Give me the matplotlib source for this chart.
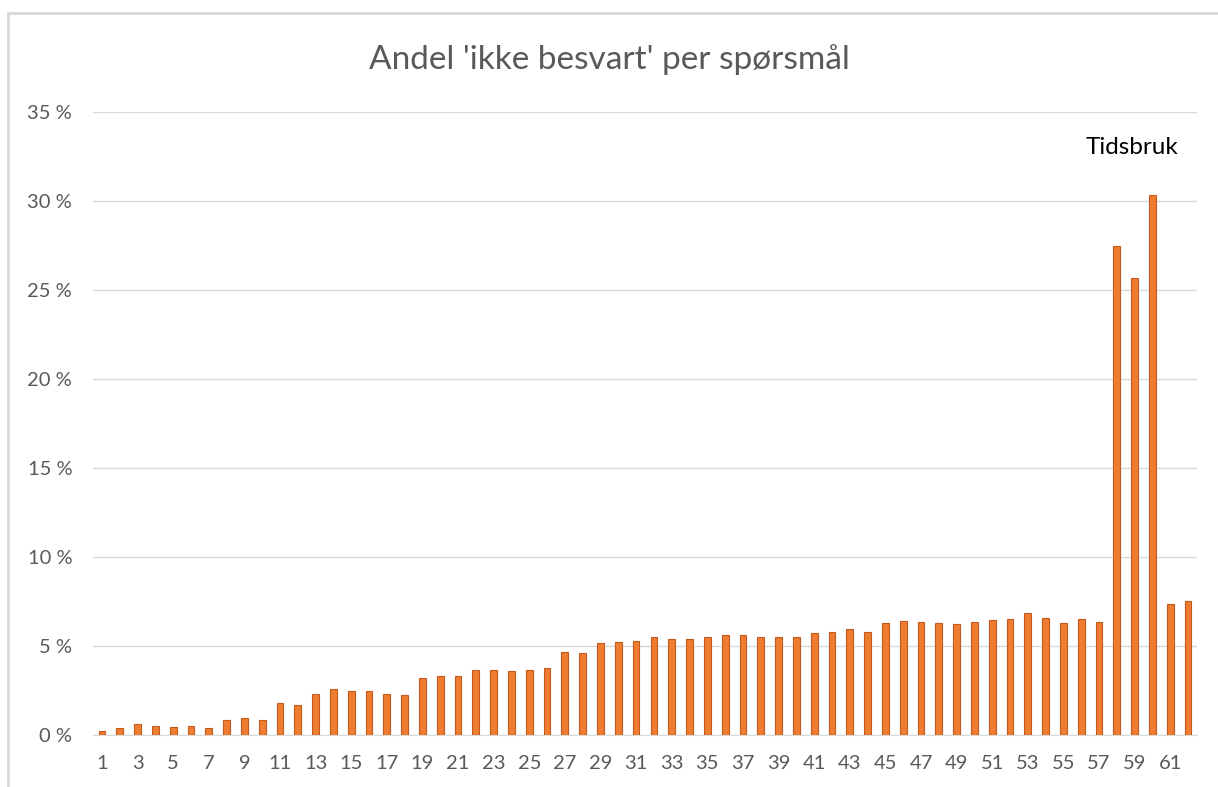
import matplotlib.pyplot as plt
from matplotlib.patches import Rectangle
from matplotlib.ticker import FuncFormatter

# andel 'ikke besvart' (prosent) per spørsmål, lest av figuren
sporsmal = list(range(1, 63))
andel = [0.2, 0.37, 0.59, 0.5, 0.43, 0.5, 0.37, 0.8, 0.94, 0.8,
         1.78, 1.65, 2.28, 2.57, 2.44, 2.44, 2.28, 2.2, 3.15, 3.28,
         3.28, 3.65, 3.65, 3.57, 3.65, 3.72, 4.65, 4.57, 5.15, 5.2,
         5.28, 5.5, 5.35, 5.35, 5.5, 5.57, 5.57, 5.5, 5.5, 5.5,
         5.7, 5.78, 5.93, 5.78, 6.28, 6.4, 6.35, 6.28, 6.2, 6.34,
         6.43, 6.49, 6.84, 6.54, 6.26, 6.49, 6.34, 27.46, 25.68, 30.36,
         7.34, 7.49]
tick_labels = [str(i) for i in range(1, 63, 2)]

plt.rcParams['font.family'] = ['Lato', 'DejaVu Sans']

fig = plt.figure(figsize=(12.18, 7.87), dpi=100)
ax = fig.add_axes([93 / 1218, 1 - 734.5 / 787, (1197 - 93) / 1218, (734.5 - 112) / 787])

ax.bar(sporsmal, andel, width=0.38, color='#ED7D31', edgecolor='#C65A1E', linewidth=0.8, zorder=3)

ax.set_xlim(0.5, 62.5)
ax.set_ylim(0, 35)
ax.set_yticks(range(0, 36, 5))
ax.yaxis.set_major_formatter(FuncFormatter(lambda v, p: '%d %%' % v))
ax.set_xticks(range(1, 63, 2))
ax.set_xticklabels(tick_labels)
ax.grid(axis='y', color='#d9d9d9', linewidth=1, zorder=0)
for s in ['top', 'right', 'left']:
    ax.spines[s].set_visible(False)
ax.spines['bottom'].set_color('#d9d9d9')
ax.tick_params(axis='both', length=0, labelsize=14.5, colors='#595959')
ax.tick_params(axis='y', pad=15)
ax.tick_params(axis='x', pad=15)

ax.text(58.85, 33.0, 'Tidsbruk', fontsize=17.5, color='black', ha='center', va='center')

fig.text(0.5, 1 - 60 / 787, "Andel 'ikke besvart' per spørsmål", ha='center', va='center',
         fontsize=24, color='#595959')

# ramme rundt diagramområdet
fig.patches.append(Rectangle((8 / 1218, -0.01), 1.0, 1 - 13 / 787 + 0.01, transform=fig.transFigure,
                             fill=False, edgecolor='#d9d9d9', linewidth=2))

fig.savefig('out.png', dpi=100)
